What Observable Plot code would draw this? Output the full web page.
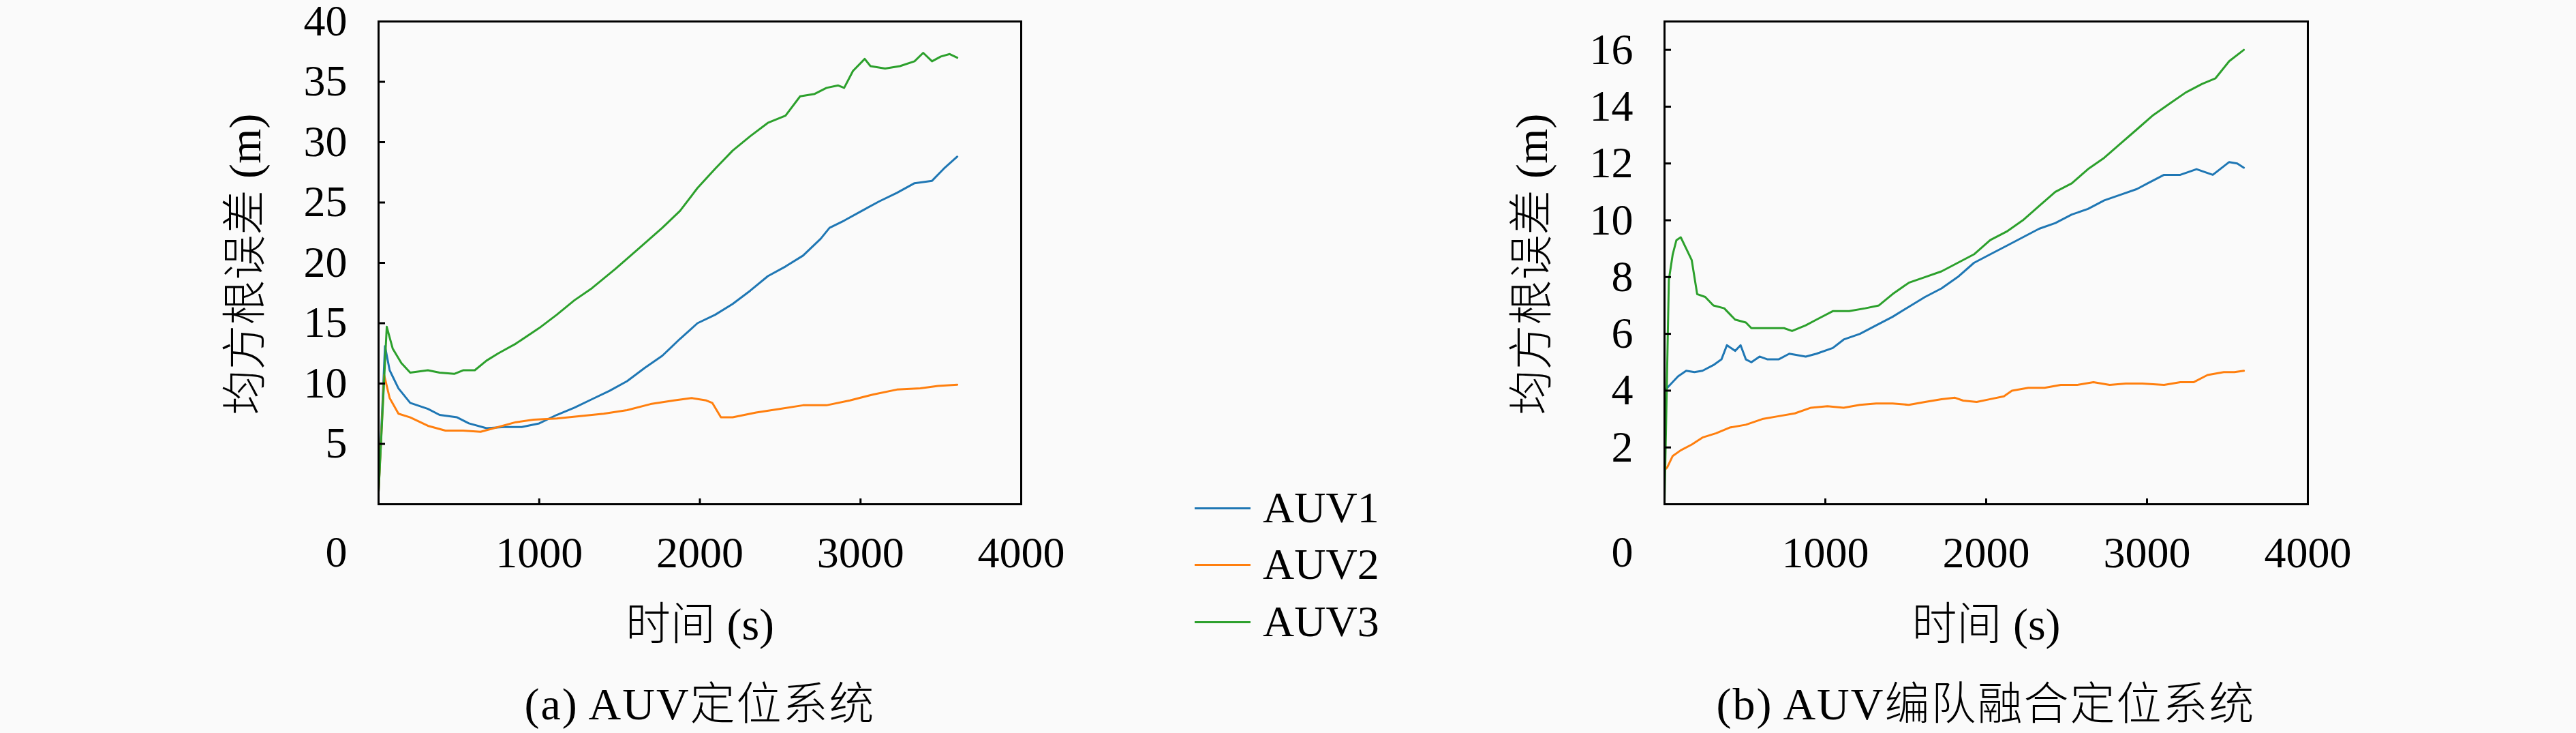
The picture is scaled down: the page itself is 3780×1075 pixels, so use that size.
<!DOCTYPE html>
<html><head><meta charset="utf-8">
<script src="https://cdn.jsdelivr.net/npm/d3@7"></script>
<script src="https://cdn.jsdelivr.net/npm/@observablehq/plot@0.6"></script>
<style>
html,body{margin:0;padding:0;background:#fafafa;}
#wrap{position:relative;width:3780px;height:1075px;overflow:hidden;font-family:"Liberation Serif","Noto Sans CJK SC",serif;color:#000;font-weight:300;}
.panel{position:absolute;top:0;}
.cap{position:absolute;font-size:66px;letter-spacing:2px;line-height:1;white-space:nowrap;transform:translate(-50%,-50%);}
.legrow{position:absolute;left:1753px;height:64px;display:flex;align-items:center;font-size:64px;line-height:1;white-space:nowrap;}
.legline{display:inline-block;width:82px;height:3px;margin-right:18px;}
</style>
</head><body>
<div id="wrap"></div>
<script>
const seriesNames = ["AUV1", "AUV2", "AUV3"];
const seriesColors = ["#1f77b4", "#ff7f0e", "#2ca02c"];
const xTicks = [1000, 2000, 3000, 4000];
const leftYTicks = [5, 10, 15, 20, 25, 30, 35, 40];
const rightYTicks = [2, 4, 6, 8, 10, 12, 14, 16];
const xLabel = "时间 (s)";
const yLabel = "均方根误差 (m)";
const captions = ["(a) AUV定位系统", "(b) AUV编队融合定位系统"];

// (a) AUV positioning system
const aAUV1_t = [0,40,69,124,197,307,380,489,562,672,781,891,1000,1109,1219,1328,1438,1547,1657,1766,1876,1985,2095,2204,2314,2423,2533,2642,2752,2807,2898,3007,3117,3226,3336,3445,3518,3602];
const aAUV1_v = [1,13.1,11.1,9.6,8.4,7.9,7.4,7.2,6.7,6.3,6.4,6.4,6.7,7.4,8.0,8.7,9.4,10.2,11.3,12.3,13.7,15.0,15.7,16.6,17.7,18.9,19.7,20.6,22.0,22.9,23.5,24.3,25.1,25.8,26.6,26.8,27.8,28.8];
const aAUV2_t = [0,35,69,124,197,307,416,526,635,745,854,964,1109,1255,1401,1547,1693,1839,1949,2040,2077,2131,2204,2350,2496,2642,2788,2934,3080,3226,3372,3482,3602];
const aAUV2_v = [1,10.7,8.8,7.5,7.2,6.5,6.1,6.1,6.0,6.4,6.8,7.0,7.1,7.3,7.5,7.8,8.3,8.6,8.8,8.6,8.4,7.2,7.2,7.6,7.9,8.2,8.2,8.6,9.1,9.5,9.6,9.8,9.9];
const aAUV3_t = [0,51,88,142,197,307,380,471,526,599,672,745,854,1000,1109,1219,1328,1474,1620,1766,1876,1985,2095,2204,2314,2423,2533,2624,2715,2788,2861,2898,2953,3026,3062,3153,3245,3336,3390,3445,3500,3555,3602];
const aAUV3_v = [1,14.7,12.9,11.7,10.9,11.1,10.9,10.8,11.1,11.1,11.9,12.5,13.3,14.6,15.7,16.9,17.9,19.5,21.2,22.9,24.3,26.2,27.8,29.3,30.5,31.6,32.2,33.8,34.0,34.5,34.7,34.5,35.9,36.9,36.3,36.1,36.3,36.7,37.4,36.7,37.1,37.3,37.0];

// (b) AUV formation fusion positioning system
const bAUV1_t = [0,34,84,135,186,236,304,354,388,439,473,506,540,591,641,709,776,878,945,1046,1114,1215,1316,1418,1519,1620,1722,1823,1924,2025,2127,2228,2329,2430,2532,2633,2734,2835,2937,3004,3106,3207,3308,3409,3511,3561,3602];
const bAUV1_v = [4.0,4.2,4.5,4.7,4.65,4.7,4.9,5.1,5.6,5.4,5.6,5.1,5.0,5.2,5.1,5.1,5.3,5.2,5.3,5.5,5.8,6.0,6.3,6.6,6.95,7.3,7.6,8.0,8.5,8.8,9.1,9.4,9.7,9.9,10.2,10.4,10.7,10.9,11.1,11.3,11.6,11.6,11.8,11.6,12.05,12.0,11.85];
const bAUV2_t = [0,17,51,101,169,236,321,405,506,608,709,810,911,1013,1114,1215,1316,1418,1519,1620,1722,1806,1857,1941,2025,2110,2160,2262,2363,2464,2565,2667,2768,2869,2970,3106,3207,3291,3376,3477,3544,3602];
const bAUV2_v = [1.2,1.3,1.7,1.9,2.1,2.35,2.5,2.7,2.8,3.0,3.1,3.2,3.4,3.45,3.4,3.5,3.55,3.55,3.5,3.6,3.7,3.75,3.65,3.6,3.7,3.8,4.0,4.1,4.1,4.2,4.2,4.3,4.2,4.25,4.25,4.2,4.3,4.3,4.55,4.65,4.65,4.7];
const bAUV3_t = [0,27,51,74,101,135,169,186,203,253,304,371,439,506,540,641,743,793,878,945,1046,1148,1249,1333,1418,1519,1620,1722,1823,1924,2025,2127,2228,2329,2430,2532,2633,2734,2835,2937,3038,3139,3241,3342,3426,3511,3602];
const bAUV3_v = [0,7.9,8.8,9.3,9.4,9.0,8.6,8.0,7.4,7.3,7.0,6.9,6.5,6.4,6.2,6.2,6.2,6.1,6.3,6.5,6.8,6.8,6.9,7.0,7.4,7.8,8.0,8.2,8.5,8.8,9.3,9.6,10.0,10.5,11.0,11.3,11.8,12.2,12.7,13.2,13.7,14.1,14.5,14.8,15.0,15.6,16.0];

function rows(pairs) {
  const out = [];
  pairs.forEach(([name, ts, vs]) => ts.forEach((t, i) => out.push({s: name, t, v: vs[i]})));
  return out;
}
const aRows = rows([["AUV1", aAUV1_t, aAUV1_v], ["AUV2", aAUV2_t, aAUV2_v], ["AUV3", aAUV3_t, aAUV3_v]]);
const bRows = rows([["AUV1", bAUV1_t, bAUV1_v], ["AUV2", bAUV2_t, bAUV2_v], ["AUV3", bAUV3_t, bAUV3_v]]);

const FONT = '"Liberation Serif", "Noto Sans CJK SC", serif';
const FS = 64;
const TFS = 66;
const fmt = d => String(d);

function panel(data, yDomain, yTicks, opts) {
  return Plot.plot({
    width: opts.width, height: 960,
    marginLeft: opts.ml, marginRight: opts.mr, marginTop: 31, marginBottom: 221,
    x: {domain: [0, 4000], label: null},
    y: {domain: yDomain, label: null},
    color: {domain: seriesNames, range: seriesColors},
    style: {fontFamily: FONT, fontSize: FS + "px", fontWeight: 300, background: "transparent", overflow: "visible", color: "black"},
    marks: [
      Plot.line(data, {x: "t", y: "v", z: "s", stroke: "s", strokeWidth: 3, strokeLinejoin: "round"}),
      Plot.frame({stroke: "black", strokeWidth: 3}),
      Plot.axisX(xTicks, {tickSize: -8, text: null, strokeWidth: 3, label: null}),
      Plot.axisX(xTicks, {tickSize: 0, tickPadding: 47, fontSize: FS, tickFormat: fmt, label: null}),
      Plot.axisY(yTicks, {tickSize: -10, text: null, strokeWidth: 3, label: null}),
      Plot.axisY(yTicks, {tickSize: 0, tickPadding: 46, fontSize: FS, tickFormat: fmt, label: null}),
      Plot.text([0], {x: d => d, y: d => d, text: d => String(d), textAnchor: "end", dx: -46, dy: 71, fontSize: FS}),
      Plot.text([xLabel], {frameAnchor: "bottom", dy: 177, fontSize: TFS, textAnchor: "middle", lineAnchor: "middle"}),
      Plot.text([yLabel], {frameAnchor: "left", rotate: -90, dx: -opts.yTitleOff, dy: 2, fontSize: TFS, textAnchor: "middle", lineAnchor: "middle", letterSpacing: "1px"})
    ]
  });
}

const wrap = document.getElementById("wrap");
const p1 = panel(aRows, [0, 40], leftYTicks, {width: 1600, ml: 555, mr: 102, yTitleOff: 195});
p1.classList.add("panel"); p1.style.left = "0px";
wrap.appendChild(p1);
const p2 = panel(bRows, [0, 17], rightYTicks, {width: 1380, ml: 342, mr: 94, yTitleOff: 194});
p2.classList.add("panel"); p2.style.left = "2100px";
wrap.appendChild(p2);

// legend
const legY = [745, 828, 912];
seriesNames.forEach((name, i) => {
  const row = document.createElement("div");
  row.className = "legrow";
  row.style.top = (legY[i] - 32) + "px";
  const ln = document.createElement("span");
  ln.className = "legline";
  ln.style.background = seriesColors[i];
  row.appendChild(ln);
  row.appendChild(document.createTextNode(name));
  wrap.appendChild(row);
});

// captions
const capX = [1027, 2914];
captions.forEach((c, i) => {
  const d = document.createElement("div");
  d.className = "cap";
  d.style.left = capX[i] + "px";
  d.style.top = "1033px";
  d.textContent = c;
  wrap.appendChild(d);
});
</script>
</body></html>
